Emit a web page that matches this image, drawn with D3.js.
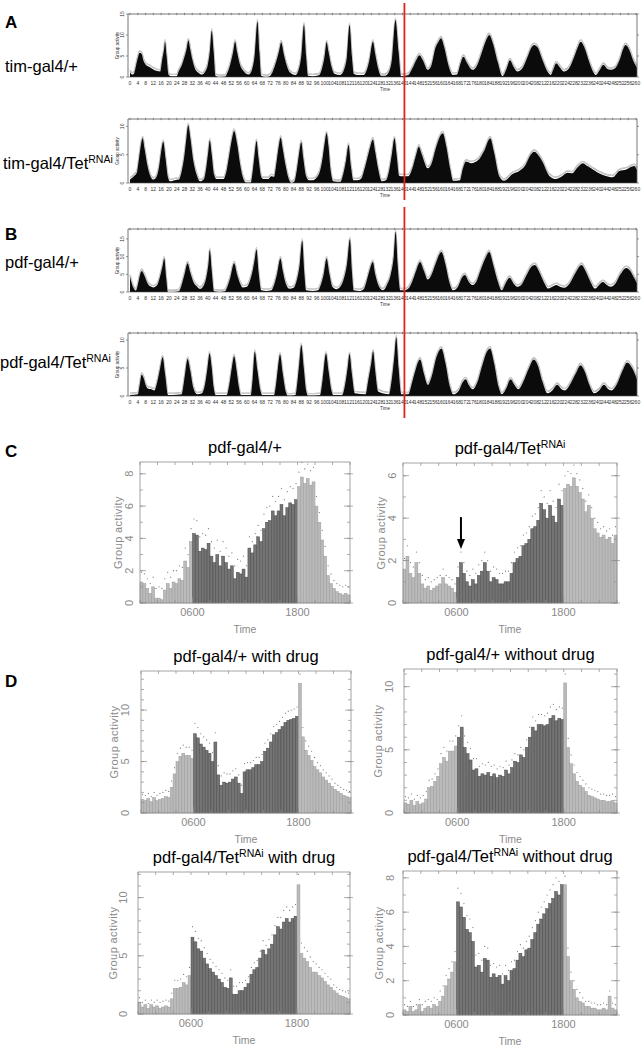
<!DOCTYPE html>
<html><head><meta charset="utf-8">
<script src="https://cdn.jsdelivr.net/npm/d3@7"></script>
<style>body{margin:0;background:#fff}svg{display:block}text{font-family:"Liberation Sans",Arial,sans-serif}</style>
</head><body><svg id="c" width="643" height="1048"></svg>
<script>
// ================= DATA =================
// Panel A/B: group activity traces, [time (h), activity]
const timCtrl = [[0,1.2],[1,0.6],[2,0.8],[3,2.5],[4,4.5],[5,5.8],[6,5.5],[7,3.8],[8,3],[10,2.4],[12,1.8],[14,1.4],[15.5,1.3],[16.5,4],[17.5,6.6],[18,8.4],[18.8,5],[19.8,0.6],[21,0.2],[24,0.2],[25,1.3],[26.7,2.9],[28,4.8],[29,6.5],[30,8.7],[31,6.5],[32,4.2],[33.3,2.1],[35,1.1],[37,0.6],[38.5,1.2],[40,3],[41,6],[42,11],[43,6],[44,0.3],[46,0],[49,0.1],[50,1],[51.5,3],[53,6],[54,8.4],[55,6],[56.5,3],[58,1.6],[61,0.6],[62.5,1.5],[64,5],[65.5,13.2],[66.5,6],[67.5,0.3],[70,0],[72,0.3],[73.5,1.5],[75,3.5],[76.5,6],[77.7,8.2],[79,5.5],[80.5,2.8],[82,1.2],[85,0.5],[86.5,1.5],[88,5],[89.4,12.5],[90.5,5],[91.5,0.3],[94,0.2],[97,0.4],[98.5,1.8],[100,5],[101,8.3],[102,6],[103.5,2.5],[105,0.8],[108,0.5],[110,1.8],[111.5,5],[112.8,12.4],[114,5],[115,0.8],[117,0.5],[120,0.5],[121.5,1.5],[123,4],[124.8,8.4],[126,5.5],[127.5,2],[129,0.3],[131,0.3],[133,1.2],[134.5,4],[136.4,13.6],[138,6],[139.3,0.2],[141,0.3],[143,0.5],[145,2],[147,4],[148.7,5.2],[150.5,4],[153,1.7],[155,3],[157,7],[158.5,8.4],[159.8,9.2],[161.5,7],[163.5,3],[166,0.5],[168,0.6],[170,3.5],[171.3,4.8],[173,3.5],[176,1.7],[178,2.5],[180.5,5.5],[183,8.8],[184.6,10],[186.5,8],[189,3.5],[191.4,0.2],[193.5,2],[195.2,4],[197,2.5],[199,1.3],[201.5,2],[204,4.5],[206,6.8],[207.7,7.6],[209.5,7],[212,4],[214.5,1.3],[216.2,0.5],[217.5,1.8],[219,3.3],[221,2.2],[223,1.3],[225.5,2],[228,4.5],[230,7],[231.6,8.4],[233.5,7],[236,3.5],[238,1.2],[239.3,0.5],[241.5,1.8],[243.2,2.9],[245,2],[247,1.7],[249,2],[251.5,4],[253.5,6.8],[254.7,7.6],[256.5,6.5],[258.5,4],[260.5,2.2]];
const timTet = [[0,0.6],[2,1.2],[3.5,1.8],[4.5,4],[5.5,6.5],[6.5,7.9],[7.5,6],[9,3],[10.5,1.2],[12,0.6],[13.5,1],[15,3],[16,5.5],[17.1,7.3],[18.2,4.5],[19.5,1],[20.5,0.3],[23,0.5],[25,0.6],[26.5,2],[28,5],[29,8],[29.9,10.2],[31,8],[32.5,4],[34.5,1.2],[36,0.3],[38,0.7],[39.3,3],[40.2,5.5],[41,7.5],[42,5],[43.2,1.5],[44.5,0.7],[48,0.7],[49.5,2],[51,5],[52.5,8],[53.5,9.2],[55,7],[56.5,3.5],[58,1],[59.5,0.1],[62,0.1],[63,2],[64,5],[65,7.4],[66,4.5],[67.5,1],[68.5,0.7],[71,0.7],[72.5,1.2],[74,1.1],[75,3],[76.2,6],[77.4,8],[78.5,6],[80,3],[81.5,0.8],[83,0],[84.5,0.3],[86,3],[87,5.5],[88,7.2],[89,4.5],[90.5,1.2],[92,0.5],[94,0.5],[96,1],[97.5,2],[99,4.5],[100,7],[101,8.8],[102,6.5],[103,2.5],[104.5,0.3],[108,0.2],[109.5,1.5],[111,4],[112.3,6.7],[113.5,3],[114.8,0.5],[117,0.5],[119,0.9],[120.5,2.5],[122,4.5],[123.5,6.5],[124.8,7.7],[126,5.5],[127.5,2.5],[129.4,0.3],[131.5,0.5],[133,2],[134.5,5],[135.9,7.9],[137,5],[138.3,1.3],[140,1.2],[143,1.2],[145,2.5],[147,5],[148.4,6.4],[150,5],[153,2.6],[155,3.5],[157,6],[158.5,7.6],[160.7,8.8],[162.5,6.5],[164.5,2.5],[166,0.4],[169.5,0.5],[171,2.5],[172.6,3.8],[175.4,3.5],[178.8,4],[182,5.7],[185.1,7.9],[187,5.5],[189.7,1.2],[192.3,0.4],[196.6,1.6],[200,2.1],[203.4,3.3],[205.5,4.8],[207.7,5.5],[210,4.8],[212,3.7],[215.4,1.3],[218.8,0.7],[222,1.2],[224.8,1.8],[227,1.7],[230,2.8],[232.6,3.5],[235,3],[236.9,2.6],[240,1.9],[243,1.4],[246,1.1],[248,1],[251.4,2.1],[255,2.4],[259,3],[260.5,2.3]];
const pdfCtrl = [[0,4.3],[1.5,1.5],[3,0.4],[4,2],[5,4.5],[6,5.9],[7.5,4.5],[9,2.5],[10.5,1.6],[12,1.3],[14,2],[15.5,4.5],[16.8,7.5],[17.6,9.5],[18.6,4],[19.5,0],[22,0],[25,0.2],[26.5,2],[28,5],[29.6,8.1],[31,5.5],[32.5,3],[34.5,1.5],[36,0.9],[38,2],[39.5,5],[40.3,8],[41,11.9],[42,6],[43.2,0.2],[46,0],[48.7,0.2],[50,1.5],[51.5,4],[53.5,8.1],[55,5],[56.5,2.5],[58,1.3],[60,1.5],[61.5,3],[63,6],[64,9],[65,12],[66,6],[67.5,0.5],[70,0.3],[72.6,0.5],[74,2],[75.5,5],[77.3,9.5],[78.5,6],[80,2.5],[82,0.9],[84,1.2],[85.5,3],[87,7],[88.5,14.5],[89.5,6],[90.5,0.5],[94,0.3],[96.6,0.5],[98,2],[99.5,5],[101,9.5],[102.5,5],[104,1.5],[106,0.8],[108,1.5],[110,4],[111.5,8],[113,15],[114,6],[115,0.5],[118,0.3],[120,0.8],[121.5,3],[123,6],[124.8,8.5],[126,5],[128,1.5],[130,0.5],[132,2],[134,5],[135.5,10],[136.5,17],[137.5,8],[139,0.5],[141,0.5],[143,1],[145,3],[147,6],[149,8.5],[151,6],[153,3.5],[155,5],[157,8],[160,11.3],[162,8],[164,3],[166,0.5],[168.5,1.5],[170.5,4],[172,4.8],[174,3],[176,2],[178,3],[180,6],[182.5,9.5],[184.6,11.3],[186.5,8],[189,3],[191,0.5],[193,2.5],[195,4],[197,2.5],[199,1.5],[201,2],[203.5,4.5],[206,7],[208,7.6],[210,6],[212.5,3],[215,1],[217,1.5],[219,2],[221,1.5],[223,1.2],[226,2.5],[229,5.5],[232,7.6],[234,6],[236.5,3],[239,1],[241,2],[243,2.8],[245,2],[247,1.5],[249.5,2.5],[252,5],[255,6.8],[257,6],[259,4],[260.5,2.5]];
const pdfTet = [[0,0.2],[4,0.3],[5,2],[6,3.8],[7,3.2],[8,2],[9,1.4],[11,1.2],[12.5,1],[14,2.5],[15.5,5],[16.8,6.9],[18,4],[19.6,0.2],[22,0.2],[26.5,0.3],[27.5,2],[28.5,4.5],[29.6,6.6],[31,4.5],[32.5,1.5],[34.5,0.3],[37,0.5],[38.5,2],[39.8,5],[40.9,7.6],[42,5],[43,1.5],[44,0.2],[49.7,0.2],[51,2],[52.3,5],[53.5,7.1],[54.8,4.5],[56,1.5],[57,0.2],[62,0.2],[63,3],[64.1,7.9],[65.5,4.5],[67,1],[68,0.2],[74,0.2],[75,2],[76,5],[77.1,7.4],[78.5,4],[80,0.8],[81,0.1],[85,0.2],[86,2.5],[87,6],[88,9.1],[89.3,5],[90.5,1],[91.5,0.1],[97.6,0.2],[99,3],[100.7,7.6],[102,4.5],[103.5,1],[104.5,0.2],[109,0.2],[110.5,2],[111.8,5],[112.8,7.5],[114,4],[115.5,0.5],[121,0.3],[122.5,3],[124,6],[124.9,8],[126,4.5],[127.5,0.8],[133,0.3],[134.5,3],[135.8,7],[136.8,10.5],[138,5],[139.5,0.3],[143,0.3],[145,2.5],[147,5],[149,6.5],[151,4],[153,2],[155,3.5],[157.5,7],[160,8.5],[162,6],[164.5,1.5],[166,0.3],[169,1],[171,2.5],[172.5,3],[174,2],[176,1.2],[178.5,2.5],[181,5.5],[183.5,8],[185,8.5],[187,6],[189.5,1.5],[191,0.3],[193.5,1.5],[195.5,3],[197.5,2],[199.5,1.2],[202,2.5],[205,5],[207.5,6.5],[209.5,5.5],[212,2.5],[214.5,0.5],[217,1],[219.5,2],[221.5,1.3],[223.5,1],[226,2],[229,4],[231.5,5.5],[233.5,4.5],[236,2],[238.5,0.5],[241,1],[243.5,2],[245.5,1.3],[247.5,1],[250,2],[253,4.5],[255.5,6],[258,5],[260.5,3]];
const timeTickLabels = [0,4,8,12,16,20,24,28,32,36,40,44,48,52,56,60,64,68,72,76,80,84,88,92,96,100,104,108,112,116,120,124,128,132,136,140,144,148,152,156,160,164,168,172,176,180,184,188,192,196,200,204,208,212,216,220,224,228,232,236,240,244,248,252,256,260];
const releaseTime = 141; // red line: switch LD -> DD

// Panels C/D: 20-min bins over 24 h
const cCtrl = [1.3,1.2,0.9,0.6,1.0,0.3,0.3,0.2,0.8,1.2,0.9,1.3,1.2,1.5,1.4,2.6,2.2,3.8,
 4.3,4.2,3.2,3.4,3.3,3.7,2.9,2.5,3.0,2.3,2.9,2.5,2.1,2.3,1.5,1.9,1.8,2.1,
 1.6,3.4,3.1,3.6,4.1,3.8,4.6,5.0,5.1,5.7,5.4,5.7,6.1,5.4,5.9,6.2,6.1,6.4,
 7.2,7.8,7.4,7.7,7.3,7.5,6.0,5.0,3.9,2.9,1.7,1.2,0.9,0.7,0.6,0.5,0.6,0.5];
const cTet = [1.6,2.2,1.4,1.2,1.9,1.4,0.9,0.7,0.8,0.6,0.7,0.8,0.9,1.2,0.9,0.8,0.7,0.5,
 1.2,1.9,1.4,1.0,0.8,1.1,0.9,1.3,1.5,1.9,1.5,1.0,1.2,1.1,0.9,0.9,1.0,1.0,
 1.4,1.9,2.1,2.2,2.7,2.8,3.0,3.5,3.6,3.9,4.7,4.4,4.0,4.6,4.1,3.8,4.9,4.6,
 5.4,5.6,5.5,5.9,5.5,5.2,4.9,4.3,4.6,4.0,3.5,3.3,3.1,3.2,3.0,3.1,2.8,3.2];
const dCtrlDrug = [1.3,1.2,1.4,1.1,1.5,1.2,1.3,1.4,1.6,1.5,2.5,3.8,5.0,5.5,5.8,5.6,5.6,5.3,
 7.7,7.3,6.7,6.4,6.1,5.8,5.0,6.9,3.7,2.7,3.0,2.9,3.0,3.3,3.5,2.9,1.9,4.0,
 4.2,4.2,4.4,4.7,4.7,5.0,6.0,6.3,6.9,7.6,7.8,8.1,8.4,8.8,9.0,9.1,9.2,9.4,
 12.6,7.4,6.1,5.6,5.1,4.5,4.2,3.9,3.5,3.2,2.9,2.6,2.3,2.1,1.9,1.7,1.6,1.5];
const dCtrlNoDrug = [0.8,0.7,1.0,0.6,0.9,0.7,0.8,1.1,2.0,2.1,2.5,2.9,3.9,4.4,4.1,4.9,4.9,5.3,
 6.0,6.8,5.2,4.7,4.2,3.4,3.5,2.9,3.1,3.0,3.2,2.9,3.1,2.8,3.0,2.9,3.4,3.1,
 3.6,4.1,4.0,4.6,4.4,5.2,6.0,6.8,6.5,7.0,7.0,6.9,7.0,7.5,7.7,7.3,7.5,7.4,
 10.3,5.2,3.9,3.1,2.5,2.2,2.0,1.7,1.4,1.3,1.2,1.1,1.0,1.0,0.9,0.9,1.0,0.8];
const dTetDrug = [1.0,0.6,0.8,0.5,0.8,0.6,0.7,0.5,0.6,0.7,0.6,1.3,2.2,2.2,2.3,2.7,2.5,3.3,
 6.6,6.2,5.6,5.4,4.8,4.3,3.9,3.6,3.3,3.0,2.7,2.3,2.2,3.1,1.7,1.7,2.0,2.0,
 2.3,2.6,3.4,3.8,4.0,4.8,5.5,5.1,5.6,6.0,6.8,7.5,7.3,7.9,8.2,7.9,8.2,8.4,
 11.1,5.2,4.8,4.5,4.0,3.6,3.6,3.3,3.1,2.8,2.5,2.3,2.0,1.8,1.6,1.5,1.4,1.3];
const dTetNoDrug = [0.3,0.2,0.5,0.2,0.3,0.6,0.2,0.4,0.5,0.4,0.6,0.5,0.8,1.1,1.7,2.1,2.5,3.1,
 6.6,6.3,5.7,5.0,4.8,4.3,2.8,2.9,2.5,3.3,3.2,2.2,2.4,2.2,2.3,1.8,2.3,2.0,
 2.6,2.7,3.2,3.6,3.4,3.8,3.9,4.4,4.8,5.3,5.6,5.9,6.2,6.5,6.8,7.2,7.0,7.6,
 7.6,3.4,2.0,1.5,1.0,0.8,0.7,0.5,0.5,0.4,0.4,0.3,0.3,0.4,0.3,1.1,0.4,0.3];
// scatter spread (2-h blocks) for the dots above bars
const semCCtrl = [0.6,0.7,0.8,0.9,0.9,0.8,0.7,0.9,1.0,0.9,0.6,0.5];
const semCTet = [0.5,0.4,0.4,0.5,0.5,0.5,0.5,0.6,0.7,0.6,0.5,0.4];
const semDCtrlDrug = [0.5,0.6,0.8,1.0,0.9,0.8,0.7,0.8,0.9,0.9,0.7,0.6];
const semDCtrlNoDrug = [0.5,0.6,0.8,0.9,0.8,0.7,0.6,0.8,0.9,0.7,0.6,0.5];
const semDTetDrug = [0.4,0.5,0.7,0.9,0.8,0.7,0.6,0.8,1.0,0.9,0.7,0.5];
const semDTetNoDrug = [0.3,0.4,0.6,0.8,0.7,0.6,0.5,0.7,0.8,0.5,0.3,0.3];
const lightsOn = [6, 18];
const clockTicks = [6, 18];
const clockLabels = ["0600", "1800"];
const arrowMark = {hour: 6.5, from: 4.05, to: 2.55};

// ================= DRAW =================
const svg = d3.select('#c');

function label(x, y, parts, size, opts={}) {
  const t = svg.append('text').attr('x', x).attr('y', y).attr('font-size', size)
    .attr('fill', opts.fill || '#000').attr('text-anchor', opts.anchor || 'start')
    .attr('font-weight', opts.weight || 'normal');
  parts.forEach(p => {
    if (typeof p === 'string') t.append('tspan').text(p);
    else t.append('tspan').attr('font-size', p.size).attr('dy', p.dy).text(p.t);
  });
  return t;
}

// ---- A/B traces ----
const traceBoxes = [
  {l:129, r:637, t:14, b:77, ymax:15, yt:[0,5,10,15], data:timCtrl},
  {l:129, r:637, t:119, b:183, ymax:11.3, yt:[0,5,10], data:timTet},
  {l:129, r:637, t:229, b:292, ymax:17.8, yt:[0,5,10,15], data:pdfCtrl},
  {l:129, r:637, t:333, b:396, ymax:11.25, yt:[0,5,10], data:pdfTet},
];
traceBoxes.forEach(c => {
  const g = svg.append('g');
  const x = d3.scaleLinear().domain([0, 260.5]).range([c.l+1, c.r]);
  const y = d3.scaleLinear().domain([0, c.ymax]).range([c.b, c.t]);
  const line = d3.line().x(d=>x(d[0])).y(d=>y(d[1])).curve(d3.curveMonotoneX);
  const area = d3.area().x(d=>x(d[0])).y0(c.b).y1(d=>y(d[1])).curve(d3.curveMonotoneX);
  g.append('path').attr('d', line(c.data)).attr('transform','translate(0,-1.8)')
    .attr('fill','none').attr('stroke','#a0a0a0').attr('stroke-width',1.4);
  g.append('path').attr('d', line(c.data)).attr('transform','translate(0,-1.8)')
    .attr('fill','none').attr('stroke','#fff').attr('stroke-width',0.5);
  g.append('path').attr('d', area(c.data)).attr('fill','#0b0b0b');
  const ax = '#555';
  g.append('line').attr('x1',c.l-1).attr('x2',c.r).attr('y1',c.t).attr('y2',c.t).attr('stroke',ax).attr('stroke-width',0.8);
  g.append('line').attr('x1',c.l-1).attr('x2',c.l-1).attr('y1',c.t).attr('y2',c.b).attr('stroke',ax).attr('stroke-width',0.8);
  g.append('line').attr('x1',c.r).attr('x2',c.r).attr('y1',c.t).attr('y2',c.b).attr('stroke',ax).attr('stroke-width',0.8);
  g.append('line').attr('x1',c.l-1).attr('x2',c.r).attr('y1',c.b).attr('y2',c.b).attr('stroke',ax).attr('stroke-width',0.6);
  timeTickLabels.forEach(v => {
    g.append('line').attr('x1',x(v)).attr('x2',x(v)).attr('y1',c.t-1.2).attr('y2',c.t+1.2).attr('stroke',ax).attr('stroke-width',0.6);
    g.append('text').attr('x',x(v)).attr('y',c.b+8).attr('font-size',5).attr('text-anchor','middle').attr('fill','#333').text(v);
  });
  c.yt.forEach(v => {
    g.append('line').attr('x1',c.l-3).attr('x2',c.l-1).attr('y1',y(v)).attr('y2',y(v)).attr('stroke',ax).attr('stroke-width',0.6);
    g.append('line').attr('x1',c.r).attr('x2',c.r+2).attr('y1',y(v)).attr('y2',y(v)).attr('stroke',ax).attr('stroke-width',0.6);
    g.append('text').attr('transform',`translate(${c.l-5},${y(v)}) rotate(-90)`).attr('font-size',5)
      .attr('text-anchor','middle').attr('fill','#333').text(v);
  });
  g.append('text').attr('transform',`translate(${c.l-10},${(c.t+c.b)/2}) rotate(-90)`).attr('font-size',4.5)
    .attr('text-anchor','middle').attr('fill','#333').text('Group activity');
  g.append('text').attr('x',385).attr('y',c.b+14).attr('font-size',4.5).attr('text-anchor','middle').attr('fill','#333').text('Time');
});
// red LD/DD boundary lines
const xr = d3.scaleLinear().domain([0, 260.5]).range([130, 637]);
[[3,200],[207,418]].forEach(s => {
  svg.append('line').attr('x1',xr(releaseTime)).attr('x2',xr(releaseTime)).attr('y1',s[0]).attr('y2',s[1])
    .attr('stroke','#e2231a').attr('stroke-width',1.8);
});

// ---- C/D histograms ----
const histBoxes = [
  {l:140, r:350, t:462, b:603, ymax:8.73, yt:[0,2,4,6,8], minor:1, vals:cCtrl, sem:semCCtrl, title:['pdf-gal4/+'], lblx:129, axl:118},
  {l:403, r:617, t:463, b:603, ymax:6.6, yt:[0,2,4,6], minor:1, vals:cTet, sem:semCTet, title:['pdf-gal4/Tet',{t:'RNAi',size:10.5,dy:-6}], lblx:392, axl:381},
  {l:141, r:351, t:671, b:813, ymax:13.8, yt:[0,5,10], minor:1, vals:dCtrlDrug, sem:semDCtrlDrug, title:['pdf-gal4/+ with drug'], lblx:125, axl:114},
  {l:404, r:617, t:669, b:813, ymax:11.4, yt:[0,5,10], minor:1, vals:dCtrlNoDrug, sem:semDCtrlNoDrug, title:['pdf-gal4/+ without drug'], lblx:389, axl:378},
  {l:138, r:350, t:872, b:1014, ymax:12.2, yt:[0,5,10], minor:1, vals:dTetDrug, sem:semDTetDrug, title:['pdf-gal4/Tet',{t:'RNAi',size:10.5,dy:-6},{t:' with drug',size:16.5,dy:6}], lblx:123, axl:113},
  {l:403, r:617, t:871, b:1015, ymax:8.4, yt:[0,2,4,6,8], minor:1, vals:dTetNoDrug, sem:semDTetNoDrug, title:['pdf-gal4/Tet',{t:'RNAi',size:10.5,dy:-6},{t:' without drug',size:16.5,dy:6}], lblx:390, axl:379},
];
histBoxes.forEach(c => {
  const g = svg.append('g');
  const x = d3.scaleLinear().domain([0, 24]).range([c.l, c.r]);
  const y = d3.scaleLinear().domain([0, c.ymax]).range([c.b, c.t]);
  const n = c.vals.length, bw = 24 / n;
  const isDay = i => (i*bw >= lightsOn[0] && i*bw < lightsOn[1]);
  g.selectAll('rect.bar').data(c.vals).join('rect')
    .attr('x',(d,i)=>x(i*bw)).attr('width',(d,i)=>x((i+1)*bw)-x(i*bw))
    .attr('y',d=>y(d)).attr('height',d=>c.b-y(d))
    .attr('fill',(d,i)=>isDay(i)?'#747474':'#bababa')
    .attr('stroke',(d,i)=>isDay(i)?'#4a4a4a':'#9c9c9c').attr('stroke-width',0.5);
  g.selectAll('circle.dot').data(c.vals).join('circle')
    .attr('cx',(d,i)=>x((i+0.5)*bw)).attr('cy',(d,i)=>y(Math.min(c.ymax, d + c.sem[Math.floor(i*bw/2)])))
    .attr('r',0.6).attr('fill','#777');
  const ax = '#8d8d8d';
  g.append('rect').attr('x',c.l).attr('y',c.t).attr('width',c.r-c.l).attr('height',c.b-c.t)
    .attr('fill','none').attr('stroke',ax).attr('stroke-width',0.8);
  for (let h = 0; h <= 24; h += 2) {
    g.append('line').attr('x1',x(h)).attr('x2',x(h)).attr('y1',c.t).attr('y2',c.t+3).attr('stroke',ax).attr('stroke-width',0.7);
    g.append('line').attr('x1',x(h)).attr('x2',x(h)).attr('y1',c.b).attr('y2',c.b-3).attr('stroke',ax).attr('stroke-width',0.7);
  }
  clockTicks.forEach((h,i) => {
    g.append('line').attr('x1',x(h)).attr('x2',x(h)).attr('y1',c.b).attr('y2',c.b-6).attr('stroke',ax).attr('stroke-width',0.7);
    g.append('text').attr('x',x(h)).attr('y',c.b+13).attr('font-size',11).attr('text-anchor','middle').attr('fill','#8a8a8a').text(clockLabels[i]);
  });
  for (let v = 0; v <= c.ymax; v += c.minor) {
    g.append('line').attr('x1',c.l).attr('x2',c.l+3).attr('y1',y(v)).attr('y2',y(v)).attr('stroke',ax).attr('stroke-width',0.7);
    g.append('line').attr('x1',c.r).attr('x2',c.r-3).attr('y1',y(v)).attr('y2',y(v)).attr('stroke',ax).attr('stroke-width',0.7);
  }
  c.yt.forEach(v => {
    g.append('line').attr('x1',c.l).attr('x2',c.l+6).attr('y1',y(v)).attr('y2',y(v)).attr('stroke',ax).attr('stroke-width',0.7);
    g.append('line').attr('x1',c.r+3).attr('x2',c.r-6).attr('y1',y(v)).attr('y2',y(v)).attr('stroke',ax).attr('stroke-width',0.7);
    g.append('text').attr('transform',`translate(${c.lblx+4},${y(v)}) rotate(-90)`).attr('font-size',11)
      .attr('text-anchor','middle').attr('fill','#8a8a8a').text(v);
  });
  g.append('text').attr('transform',`translate(${c.axl+4},${(c.t+c.b)/2}) rotate(-90)`).attr('font-size',11)
    .attr('text-anchor','middle').attr('fill','#8a8a8a').attr('letter-spacing',0.4).text('Group activity');
  g.append('text').attr('x',(c.l+c.r)/2).attr('y',c.b+30).attr('font-size',10.5).attr('text-anchor','middle').attr('fill','#8a8a8a').text('Time');
  label((c.l+c.r)/2, c.t-9, c.title, 16.5, {anchor:'middle'});
  c.x = x; c.y = y;
});
// arrow in C right
{
  const c = histBoxes[1];
  const ax = c.x(arrowMark.hour), y1 = c.y(arrowMark.from), y2 = c.y(arrowMark.to);
  svg.append('line').attr('x1',ax).attr('x2',ax).attr('y1',y1).attr('y2',y2-8).attr('stroke','#000').attr('stroke-width',2);
  svg.append('path').attr('d',`M${ax-4},${y2-10} L${ax+4},${y2-10} L${ax},${y2} Z`).attr('fill','#000');
}

// ---- panel letters and row labels ----
label(5, 28, ['A'], 17, {weight:'bold'});
label(5, 240, ['B'], 17, {weight:'bold'});
label(5, 457, ['C'], 17, {weight:'bold'});
label(5, 687, ['D'], 17, {weight:'bold'});
label(5, 72, ['tim-gal4/+'], 16.5);
label(3, 169, ['tim-gal4/Tet',{t:'RNAi',size:10.5,dy:-6}], 16.5);
label(5, 268, ['pdf-gal4/+'], 16.5);
label(0, 368, ['pdf-gal4/Tet',{t:'RNAi',size:10.5,dy:-6}], 16.5);
</script></body></html>
